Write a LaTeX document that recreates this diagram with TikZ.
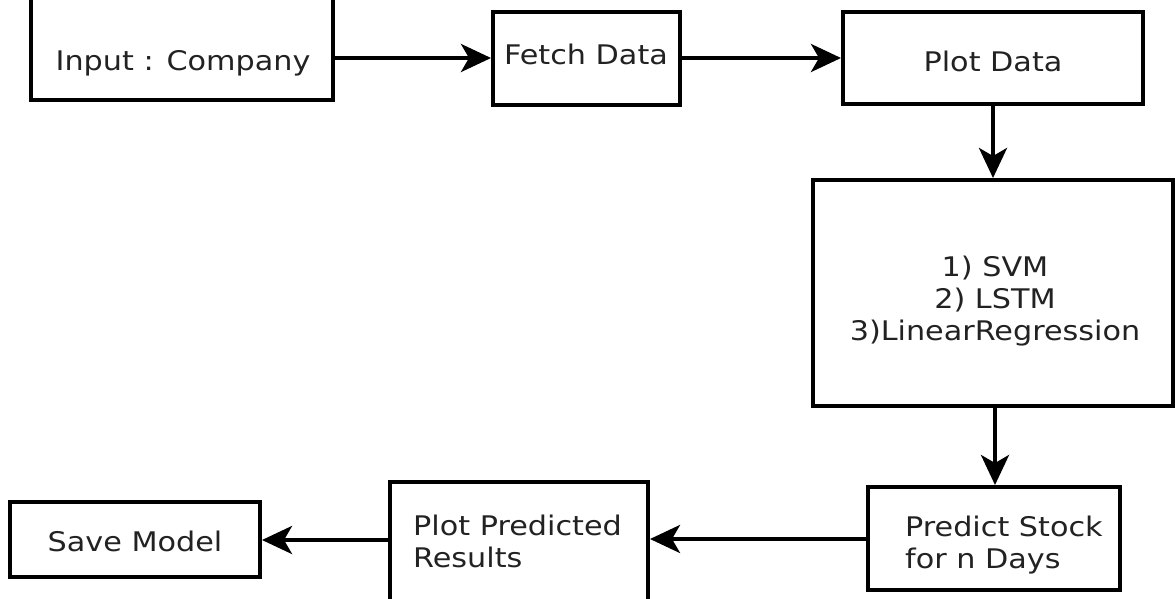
\documentclass[tikz,border=0pt]{standalone}
\usepackage{fontspec}
\setmainfont{DejaVu Sans}[FakeStretch=1.12]
\usetikzlibrary{arrows.meta,calc}
\definecolor{txtgray}{HTML}{222222}
\tikzset{
  boxstyle/.style={draw=black, line width=4pt, fill=white, rectangle, inner sep=0pt},
  lbl/.style={text=txtgray, font=\fontsize{27}{32}\selectfont, inner sep=0pt},
  conn/.style={draw=black, line width=4pt, -{Stealth[length=30pt,width=28pt,inset=8pt]}},
}
\begin{document}
\begin{tikzpicture}[x=1pt,y=-1pt]
\useasboundingbox (0,0) rectangle (1175,599);
\clip (0,0) rectangle (1175,599);
\fill[white] (0,0) rectangle (1175,599);
% boxes
\node[boxstyle, minimum width=302pt, minimum height=108pt] (in) at (182,46) {};
\node[boxstyle, minimum width=187pt, minimum height=93pt] (fetch) at (586.5,58.5) {};
\node[boxstyle, minimum width=300pt, minimum height=92pt] (plot) at (993,58) {};
\node[boxstyle, minimum width=360pt, minimum height=226pt] (ml) at (993,293) {};
\node[boxstyle, minimum width=252pt, minimum height=103pt] (pred) at (994,538.5) {};
\node[boxstyle, minimum width=258pt, minimum height=125pt] (pp) at (519,544.5) {};
\node[boxstyle, minimum width=250pt, minimum height=75pt] (save) at (135,539.5) {};
% texts
\node[lbl] (in-t) at (183,63) {Input : Company};
\node[lbl] (fetch-t) at (586,54) {Fetch Data};
\node[lbl] (plot-t) at (993,61) {Plot Data};
\node[lbl, align=center] (ml-t) at (995,301) {1) SVM\\2) LSTM\\3)LinearRegression};
\node[lbl, align=left, anchor=west] (pred-t) at (905,545) {Predict Stock\\for n Days};
\node[lbl, align=left, anchor=west] (pp-t) at (413,541) {Plot Predicted\\Results};
\node[lbl] (save-t) at (135,541) {Save Model};
% connectors
\draw[conn] (in.east |- 0,58) -- (fetch.west |- 0,58);
\draw[conn] (fetch.east |- 0,58) -- (plot.west |- 0,58);
\draw[conn] (plot.south) -- (ml.north);
\draw[conn] (ml.south -| 995,0) -- (pred.north -| 995,0);
\draw[conn] (pred.west |- 0,539) -- (pp.east |- 0,539);
\draw[conn] (pp.west |- 0,540) -- (save.east |- 0,540);
\end{tikzpicture}
\end{document}
